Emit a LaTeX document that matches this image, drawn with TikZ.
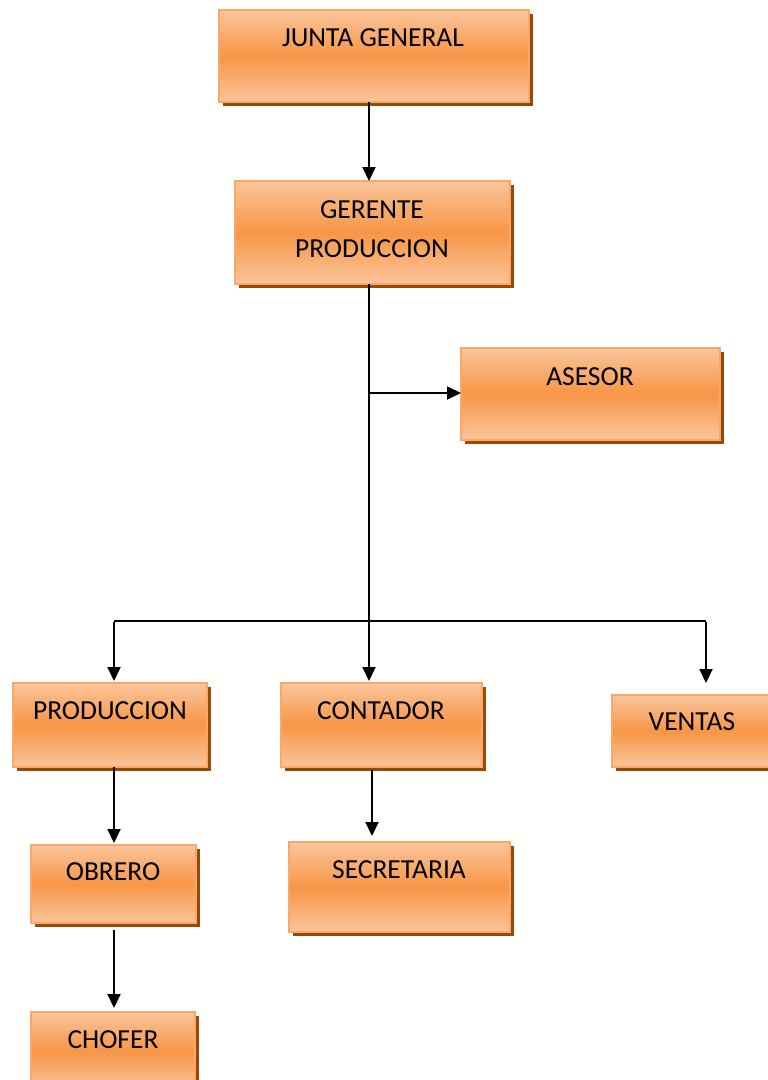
\documentclass[tikz,border=0pt]{standalone}
\usepackage{fontspec}
\setmainfont{Carlito}
\usetikzlibrary{arrows.meta}
\definecolor{boxlight}{HTML}{FAC59C}
\definecolor{boxmid}{HTML}{F79646}
\definecolor{boxedge}{HTML}{F9A868}
\definecolor{boxshadow}{HTML}{984807}
\tikzset{
  obox/.style={draw=boxedge, line width=1.5pt, top color=boxlight, bottom color=boxlight, middle color=boxmid, inner sep=0pt, outer sep=0pt, anchor=north west},
  otext/.style={font=\fontsize{27.5}{39}\selectfont, text=black, align=center, inner sep=0pt},
  conn/.style={line width=2pt, -{Triangle[length=14pt,width=13pt]}},
  plain/.style={line width=2pt}
}
% \mkbox{name}{x1}{y1}{x2}{y2}
\newcommand{\mkbox}[5]{%
  \fill[boxshadow] (#2+4,#3+4) rectangle (#4+4,#5+4);
  \pgfmathsetmacro{\bw}{#4-#2}\pgfmathsetmacro{\bh}{#5-#3}%
  \node[obox, minimum width=\bw pt, minimum height=\bh pt] (#1) at (#2,#3) {};
}
\begin{document}
\begin{tikzpicture}[x=1pt,y=-1pt]
\clip (0,0) rectangle (768,1080);
\fill[white] (0,0) rectangle (768,1080);
% boxes
\mkbox{junta}{219}{10}{529}{102}
\mkbox{gerente}{235}{181}{510}{284}
\mkbox{asesor}{461}{348}{720}{440}
\mkbox{prod}{13}{683}{207}{767}
\mkbox{contador}{281}{683}{482}{767}
\mkbox{ventas}{612}{695}{776}{767}
\mkbox{obrero}{31}{845}{196}{923}
\mkbox{secretaria}{289}{842}{510}{932}
\mkbox{chofer}{31}{1012}{195}{1090}
% texts
\node[otext] (tjunta) at (373,38) {JUNTA GENERAL};
\node[otext] (tgerente) at (372,229) {GERENTE\\PRODUCCION};
\node[otext] (tasesor) at (590,377) {ASESOR};
\node[otext] (tprod) at (110,711) {PRODUCCION};
\node[otext] (tcontador) at (381,711) {CONTADOR};
\node[otext] (tventas) at (692,722) {VENTAS};
\node[otext] (tobrero) at (113,872) {OBRERO};
\node[otext] (tsecretaria) at (399,870) {SECRETARIA};
\node[otext] (tchofer) at (113,1040) {CHOFER};
% connectors
\coordinate (jb) at (369,102);
\coordinate (gt) at (369,181);
\coordinate (gb) at (369,284);
\coordinate (ct) at (369,681);
\coordinate (ab) at (369,393);
\coordinate (al) at (461,393);
\coordinate (hl) at (114,621);
\coordinate (hr) at (706,621);
\coordinate (pt) at (114,681);
\coordinate (vt) at (706,683);
\coordinate (pb) at (114,767);
\coordinate (ot) at (114,843);
\coordinate (cb) at (372,770);
\coordinate (st) at (372,836);
\coordinate (ob) at (114,930);
\coordinate (cht) at (114,1008);
\draw[conn] (jb) -- (gt);
\draw[conn] (gb) -- (ct);
\draw[conn] (ab) -- (al);
\draw[plain] (hl) -- (hr);
\draw[conn] ([yshift=-1pt]hl) -- (pt);
\draw[conn] ([yshift=-1pt]hr) -- (vt);
\draw[conn] (pb) -- (ot);
\draw[conn] (cb) -- (st);
\draw[conn] (ob) -- (cht);
\end{tikzpicture}
\end{document}
